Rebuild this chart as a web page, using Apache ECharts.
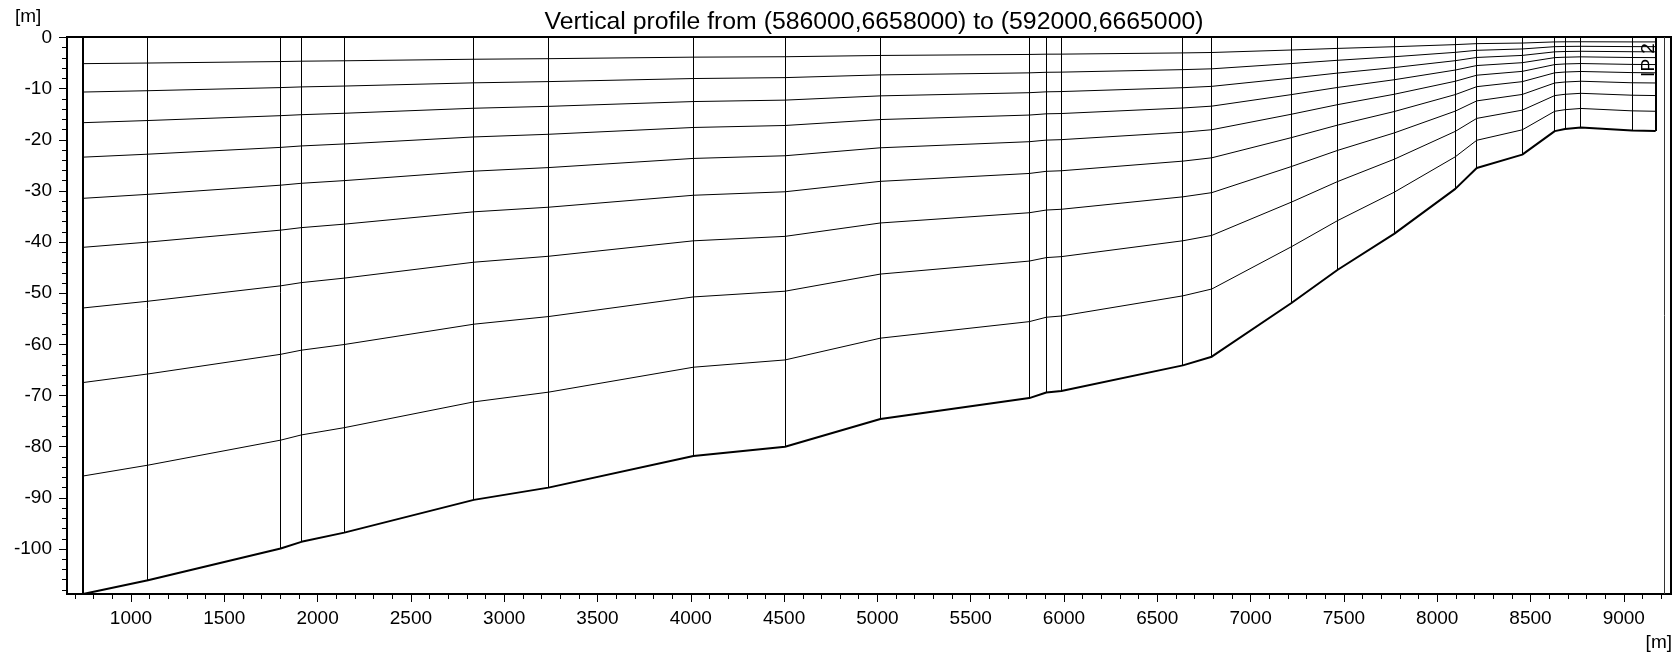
<!DOCTYPE html>
<html>
<head>
<meta charset="utf-8">
<title>Vertical profile</title>
<script src="https://cdn.jsdelivr.net/npm/echarts@6/dist/echarts.min.js"></script>
<style>
  html, body { margin: 0; padding: 0; background: #fff; }
  #chart { width: 1676px; height: 656px; }
</style>
</head>
<body>
<div id="chart"></div>
<script>
// Mesh node positions along the profile [m]
const nodeX = [743, 1091, 1802, 1913, 2143, 2837, 3237, 4014, 4505, 5016, 5814, 5905, 5986,
               6637, 6792, 7219, 7467, 7769, 8097, 8212, 8456, 8630, 8685, 8770, 9044, 9171];
// Bed level at each node [m]
const bedLevel = [-108.8, -106.1, -99.9, -98.6, -96.8, -90.4, -88.0, -81.8, -80.0, -74.6, -70.5, -69.4, -69.1,
                  -64.1, -62.4, -51.9, -45.4, -38.4, -29.6, -25.5, -22.9, -18.3, -17.9, -17.6, -18.2, -18.3];
// Sigma-layer interfaces, as a fraction of the local water depth
const layerFractions = [0.047, 0.098, 0.153, 0.215, 0.289, 0.377, 0.486, 0.620, 0.788];
// Section end marker [m]
const sectionEndX = [9216];

const xRange = [657, 9253];
const yRange = [-108.8, 0.1];
const xTickValues = [1000, 1500, 2000, 2500, 3000, 3500, 4000, 4500, 5000, 5500, 6000, 6500, 7000, 7500, 8000, 8500, 9000];
const yTickValues = [0, -10, -20, -30, -40, -50, -60, -70, -80, -90, -100];
const xMinorStep = 100;
const yMinorStep = 2;

const FONT = '"Liberation Sans", Arial, sans-serif';
const INK = '#000';

const xMinorTicks = [];
for (let v = Math.ceil(xRange[0] / xMinorStep) * xMinorStep; v <= xRange[1]; v += xMinorStep) xMinorTicks.push(v);
const yMinorTicks = [];
for (let v = Math.ceil(yRange[0] / yMinorStep) * yMinorStep; v <= yRange[1]; v += yMinorStep) yMinorTicks.push(v);

// crisp 1px vertical strokes
function crisp(x, w) { return w % 2 === 1 ? Math.round(x - 0.5) + 0.5 : Math.round(x); }

const interfaceSeries = layerFractions.map(f => ({
  type: 'line',
  data: nodeX.map((x, i) => [x, +(bedLevel[i] * f).toFixed(2)]),
  symbol: 'none',
  lineStyle: { color: INK, width: 1 },
  silent: true,
  z: 2
}));

const bedSeries = {
  type: 'line',
  data: nodeX.map((x, i) => [x, bedLevel[i]]),
  symbol: 'none',
  lineStyle: { color: INK, width: 2 },
  silent: true,
  z: 4
};

// vertical mesh lines from the surface down to the bed
const verticalSeries = {
  type: 'custom',
  coordinateSystem: 'cartesian2d',
  data: nodeX.map((x, i) => [x, bedLevel[i], i]),
  encode: { x: 0, y: 1 },
  silent: true,
  z: 3,
  renderItem: (params, api) => {
    const x = api.value(0), b = api.value(1), i = api.value(2);
    const edge = i === 0 || i === nodeX.length - 1;
    const w = edge ? 2 : 1;
    const top = api.coord([x, yRange[1]]);
    const bot = api.coord([x, b]);
    const px = crisp(top[0], w);
    return {
      type: 'line',
      shape: { x1: px, y1: top[1], x2: px, y2: bot[1] },
      style: { stroke: INK, lineWidth: w }
    };
  }
};

const sectionEndSeries = {
  type: 'custom',
  coordinateSystem: 'cartesian2d',
  data: sectionEndX.map(x => [x, yRange[0]]),
  encode: { x: 0, y: 1 },
  silent: true,
  z: 3,
  renderItem: (params, api) => {
    const x = api.value(0);
    const top = api.coord([x, yRange[1]]);
    const bot = api.coord([x, yRange[0]]);
    const px = crisp(top[0], 1);
    return {
      type: 'line',
      shape: { x1: px, y1: top[1], x2: px, y2: bot[1] },
      style: { stroke: '#333', lineWidth: 1 }
    };
  }
};

const plainNumber = v => String(v);

const chart = echarts.init(document.getElementById('chart'), null, { renderer: 'canvas' });

chart.setOption({
  animation: false,
  backgroundColor: '#fff',
  title: {
    text: 'Vertical profile from (586000,6658000) to (592000,6665000)',
    left: 869,
    top: 5,
    textAlign: 'center',
    textStyle: { fontFamily: FONT, fontSize: 24.8, fontWeight: 'normal', color: INK }
  },
  grid: {
    left: 67, top: 37, width: 1604, height: 557,
    show: true, borderColor: INK, borderWidth: 2,
    outerBoundsMode: 'none'
  },
  xAxis: [
    {
      type: 'value', min: xRange[0], max: xRange[1], position: 'bottom',
      axisLine: { show: true, onZero: false, lineStyle: { color: INK, width: 2 } },
      axisTick: { show: true, customValues: xTickValues, length: 8, lineStyle: { color: INK, width: 1 } },
      axisLabel: { customValues: xTickValues, formatter: plainNumber, margin: 15, fontSize: 19, fontFamily: FONT, color: INK },
      splitLine: { show: false }
    },
    {
      type: 'value', min: xRange[0], max: xRange[1], position: 'bottom',
      axisLine: { show: false, onZero: false },
      axisTick: { show: true, customValues: xMinorTicks, length: 5, lineStyle: { color: INK, width: 1 } },
      axisLabel: { show: false },
      splitLine: { show: false }
    }
  ],
  yAxis: [
    {
      type: 'value', min: yRange[0], max: yRange[1], position: 'left',
      axisLine: { show: true, onZero: false, lineStyle: { color: INK, width: 2 } },
      axisTick: { show: true, customValues: yTickValues, length: 8, lineStyle: { color: INK, width: 1 } },
      axisLabel: { customValues: yTickValues, formatter: plainNumber, margin: 15, fontSize: 19, fontFamily: FONT, color: INK },
      splitLine: { show: false }
    },
    {
      type: 'value', min: yRange[0], max: yRange[1], position: 'left',
      axisLine: { show: false, onZero: false },
      axisTick: { show: true, customValues: yMinorTicks, length: 5, lineStyle: { color: INK, width: 1 } },
      axisLabel: { show: false },
      splitLine: { show: false }
    }
  ],
  graphic: [
    { type: 'text', left: 15, top: 7,
      style: { text: '[m]', font: '19px ' + FONT, fill: INK } },
    { type: 'text', right: 4, top: 633,
      style: { text: '[m]', font: '19px ' + FONT, fill: INK } },
    { type: 'text', x: 1649, y: 60, rotation: Math.PI / 2,
      style: { text: 'IP 2', font: '19px ' + FONT, fill: INK, align: 'center', verticalAlign: 'middle' }, z: 10 }
  ],
  series: [...interfaceSeries, verticalSeries, sectionEndSeries, bedSeries]
});
</script>
</body>
</html>
